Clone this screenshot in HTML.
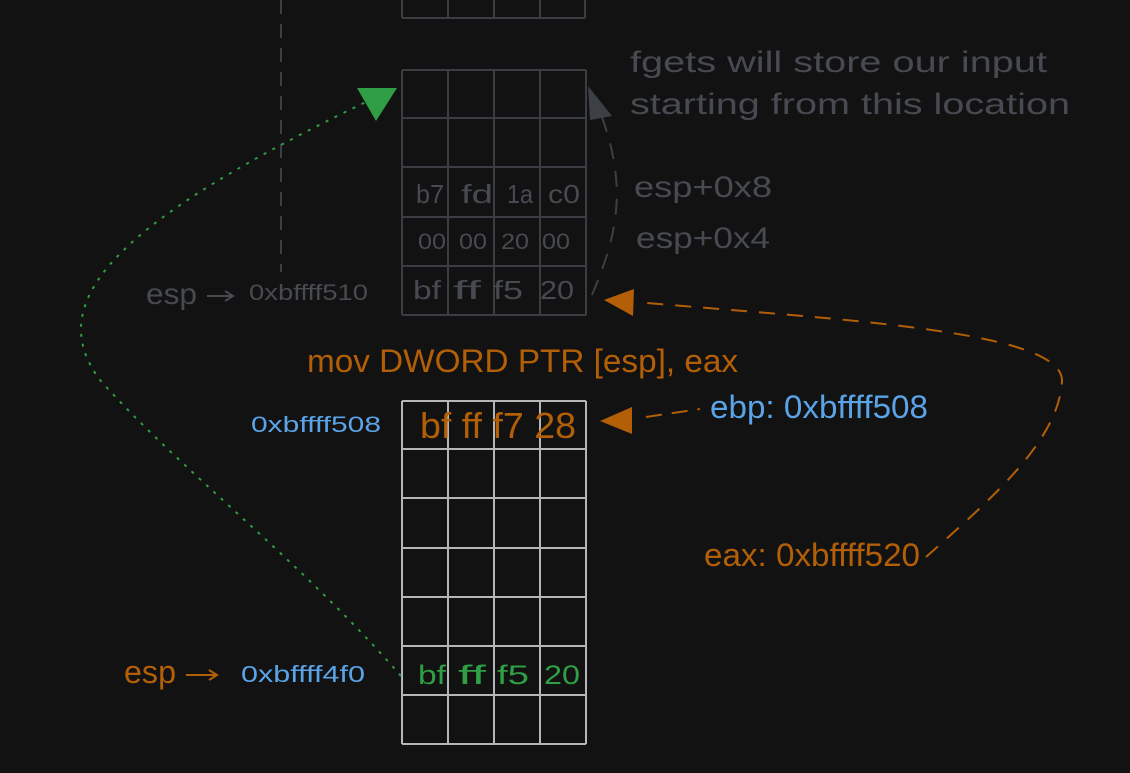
<!DOCTYPE html>
<html><head><meta charset="utf-8"><style>
html,body{margin:0;padding:0;background:#121212;}
svg{display:block}
.hand{font-family:"Comic Sans MS","Liberation Sans","DejaVu Sans",sans-serif;}
.sans{font-family:"Liberation Sans",sans-serif;}
</style></head><body>
<svg width="1130" height="773" viewBox="0 0 1130 773">
<rect width="1130" height="773" fill="#121212"/>
<line x1="281" y1="0" x2="281" y2="272" stroke="#3c3f44" stroke-width="2" stroke-dasharray="14 10"/>
<g stroke="#3a3d42" stroke-width="2" fill="none">
<line x1="402" y1="0" x2="402" y2="18"/><line x1="448" y1="0" x2="448" y2="18"/><line x1="494" y1="0" x2="494" y2="18"/><line x1="540" y1="0" x2="540" y2="18"/><line x1="585" y1="0" x2="585" y2="18"/>
<line x1="402" y1="18" x2="585" y2="18"/>
</g>
<g id="oldstack" stroke="#3a3d42" stroke-width="2" fill="none"></g>
<g id="newstack" stroke="#b4b6b8" stroke-width="2" fill="none"></g>
<g class="hand" fill="#474a50" font-size="26">
<text x="416" y="203" textLength="28" lengthAdjust="spacingAndGlyphs">b7</text><text x="461" y="203" textLength="32" lengthAdjust="spacingAndGlyphs">fd</text><text x="507" y="203" textLength="26" lengthAdjust="spacingAndGlyphs">1a</text><text x="548" y="203" textLength="32" lengthAdjust="spacingAndGlyphs">c0</text>
<text x="418" y="249" font-size="22" textLength="28" lengthAdjust="spacingAndGlyphs">00</text><text x="459" y="249" font-size="22" textLength="28" lengthAdjust="spacingAndGlyphs">00</text><text x="501" y="249" font-size="22" textLength="28" lengthAdjust="spacingAndGlyphs">20</text><text x="542" y="249" font-size="22" textLength="28" lengthAdjust="spacingAndGlyphs">00</text>
<text x="413" y="299" textLength="28" lengthAdjust="spacingAndGlyphs">bf</text><text x="453" y="299" textLength="28" lengthAdjust="spacingAndGlyphs">ff</text><text x="493" y="299" textLength="30" lengthAdjust="spacingAndGlyphs">f5</text><text x="540" y="299" textLength="34" lengthAdjust="spacingAndGlyphs">20</text>
</g>
<text class="hand" x="630" y="72" fill="#474a50" font-size="30" textLength="417" lengthAdjust="spacingAndGlyphs">fgets will store our input</text>
<text class="hand" x="630" y="114" fill="#474a50" font-size="30" textLength="440" lengthAdjust="spacingAndGlyphs">starting from this location</text>
<text class="hand" x="634" y="197" fill="#474a50" font-size="30" textLength="138" lengthAdjust="spacingAndGlyphs">esp+0x8</text>
<text class="hand" x="636" y="248" fill="#474a50" font-size="30" textLength="134" lengthAdjust="spacingAndGlyphs">esp+0x4</text>
<text class="hand" x="146" y="304" fill="#474a50" font-size="30" textLength="51" lengthAdjust="spacingAndGlyphs">esp</text>
<path d="M207 296 H233 M225 291 L233 296 L225 301" stroke="#474a50" stroke-width="2" fill="none"/>
<text class="hand" x="249" y="300" fill="#474a50" font-size="22" textLength="119" lengthAdjust="spacingAndGlyphs">0xbffff510</text>
<path d="M592 295 C615 240 630 190 600 112" stroke="#3c3f44" stroke-width="2" fill="none" stroke-dasharray="16 12"/>
<polygon points="588,86 612,116 590,120" fill="#3c3f44"/>
<text class="sans" x="307" y="372" fill="#b35f07" font-size="32" textLength="431" lengthAdjust="spacingAndGlyphs">mov DWORD PTR [esp], eax</text>
<text class="sans" x="420" y="438" fill="#b35f07" font-size="36" textLength="156" lengthAdjust="spacingAndGlyphs">bf ff f7 28</text>
<text class="sans" x="710" y="418" fill="#5aa3e6" font-size="32" textLength="218" lengthAdjust="spacingAndGlyphs">ebp: 0xbffff508</text>
<text class="sans" x="704" y="566" fill="#b35f07" font-size="32" textLength="216" lengthAdjust="spacingAndGlyphs">eax: 0xbffff520</text>
<path d="M646 417 L700 409" stroke="#b35f07" stroke-width="2" stroke-dasharray="16 10" fill="none"/>
<polygon points="600,421 632,407 632,434" fill="#b35f07"/>
<path d="M926 557 C990 500 1060 440 1062 380 C1060 330 840 320 636 302" stroke="#b35f07" stroke-width="2" stroke-dasharray="16 12" fill="none"/>
<polygon points="604,300 634,289 633,316" fill="#b35f07"/>
<text class="hand" x="251" y="432" fill="#5aa3e6" font-size="22" textLength="130" lengthAdjust="spacingAndGlyphs">0xbffff508</text>
<text class="hand" x="124" y="683" fill="#b35f07" font-size="32" textLength="52" lengthAdjust="spacingAndGlyphs">esp</text>
<path d="M186 675 H217 M209 670 L217 675 L209 680" stroke="#b35f07" stroke-width="2" fill="none"/>
<text class="hand" x="241" y="682" fill="#5aa3e6" font-size="23" textLength="124" lengthAdjust="spacingAndGlyphs">0xbffff4f0</text>
<g class="hand" fill="#2f9e44" font-size="27">
<text x="418" y="684" textLength="28" lengthAdjust="spacingAndGlyphs">bf</text><text x="458" y="684" textLength="28" lengthAdjust="spacingAndGlyphs">ff</text><text x="497" y="684" textLength="32" lengthAdjust="spacingAndGlyphs">f5</text><text x="544" y="684" textLength="36" lengthAdjust="spacingAndGlyphs">20</text>
</g>
<path d="M401 676 C300 560 180 470 100 380 C40 300 120 220 370 100" stroke="#2f9e44" stroke-width="2" stroke-dasharray="3 7" fill="none"/>
<polygon points="357,88 397,88 376,121" fill="#2f9e44"/>
</svg>
<script>
var oldCols=[402,448,494,540,586];
var oldRows=[70,118,167,217,266,315];
var newCols=[402,448,494,540,586];
var newRows=[401,449,498,548,597,646,695,744];
function grid(id,cols,rows){
  var g=document.getElementById(id),ns="http://www.w3.org/2000/svg";
  rows.forEach(function(y){var l=document.createElementNS(ns,"line");
    l.setAttribute("x1",cols[0]);l.setAttribute("x2",cols[cols.length-1]);l.setAttribute("y1",y);l.setAttribute("y2",y);
    
    
    g.appendChild(l);});
  cols.forEach(function(x){var l=document.createElementNS(ns,"line");
    l.setAttribute("x1",x);l.setAttribute("x2",x);l.setAttribute("y1",rows[0]);l.setAttribute("y2",rows[rows.length-1]);
    
    
    g.appendChild(l);});
}
grid("oldstack",oldCols,oldRows);
grid("newstack",newCols,newRows);
</script>
</body></html>
